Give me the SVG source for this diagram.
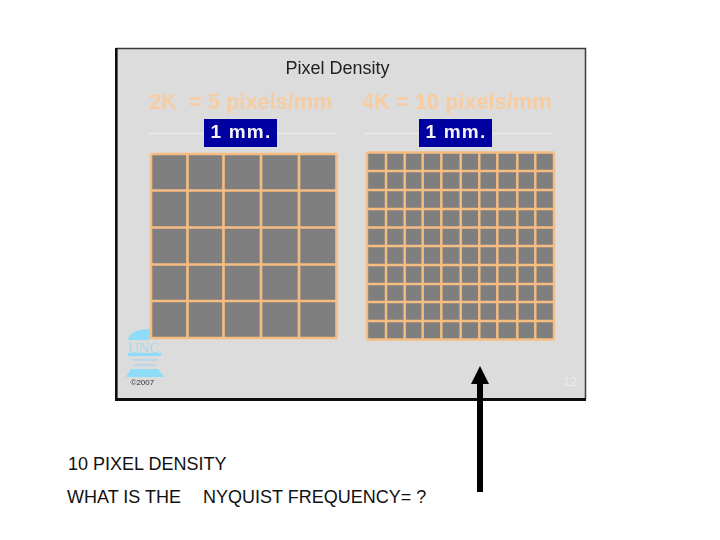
<svg xmlns="http://www.w3.org/2000/svg" width="720" height="540" viewBox="0 0 720 540">
<defs>
<style>
text{font-family:"Liberation Sans",Arial,sans-serif}
.cell{fill:#7f7f7f}
.g5{stroke:#f6bd82;stroke-width:2.6;fill:none}
.g10{stroke:#f6bd82;stroke-width:2.4;fill:none}
.head{fill:#f7cca0;font-size:21.800px;font-weight:bold}
.mm{fill:#f2f2f8;font-size:19px;font-weight:bold;letter-spacing:1.200px;text-anchor:middle}
.badge{fill:#0000a0}
.rule{stroke:#e8e8e8;stroke-width:1.500}
.logo{fill:#8edcf8}
.cap{fill:#111;font-size:18px}
</style>
<filter id="soft" x="-5%" y="-5%" width="110%" height="110%"><feGaussianBlur stdDeviation="0.45"/></filter>
</defs>
<rect width="720" height="540" fill="#fff"/>
<g id="slide" filter="url(#soft)">
<rect x="116" y="49" width="469" height="350" fill="#dcdcdc"/>
<path d="M116.500 399V48.500H585.500V399" fill="none" stroke="#3a3a3a" stroke-width="1.500"/>
<rect x="115" y="48" width="2.500" height="352" fill="#111"/>
<rect x="115" y="398" width="471" height="3" fill="#111"/>
<text x="337.500" y="73.500" font-size="18" fill="#222" text-anchor="middle">Pixel Density</text>
<text class="head" x="149" y="109" xml:space="preserve">2K  = 5 pixels/mm</text>
<text class="head" x="362" y="109">4K = 10 pixels/mm</text>
<path class="rule" d="M148 133.500H204M277 133.500H337M363 133.500H419M492 133.500H553"/>
<rect class="badge" x="204" y="119" width="73" height="28"/>
<rect class="badge" x="419" y="119" width="73" height="28"/>
<text class="mm" x="241" y="138">1 mm.</text>
<text class="mm" x="456" y="138">1 mm.</text>
</g>
<g id="grid-5" filter="url(#soft)">
<rect class="cell" x="151" y="154" width="186" height="185"/>
<path class="g5" d="M151 154V339M187.500 154V339M223.500 154V339M261 154V339M299 154V339M336.500 154V339M151 154H337M151 190.500H337M151 227.500H337M151 264.500H337M151 301H337M151 338H337"/>
</g>
<g id="grid-10" filter="url(#soft)">
<rect class="cell" x="367" y="153" width="187" height="187"/>
<path class="g10" d="M367 152.500V340M386 152.500V340M404.700 152.500V340M422.700 152.500V340M441.300 152.500V340M460.700 152.500V340M479.300 152.500V340M497.300 152.500V340M517.300 152.500V340M535.300 152.500V340M554 152.500V340M367 152.500H554M367 171H554M367 190H554M367 209H554M367 227.500H554M367 246H554M367 265H554M367 284H554M367 302H554M367 321H554M367 339.500H554"/>
</g>
<g id="logo" filter="url(#soft)">
<path class="logo" d="M128 340C129 333 137 329 150 329V340Z"/>
<rect class="logo" x="128" y="353" width="33" height="3"/>
<path class="logo" d="M131 369H158L164 377H126Z"/>
<text x="144" y="353" font-size="15" text-anchor="middle" style="font-family:'Liberation Serif',serif" fill="#a6d5ec">UNC</text>
<path d="M132 360H158M134 365H156" stroke="#c0d6e2" stroke-width="2.500"/>
<text x="130.500" y="385" font-size="8" fill="#333">©2007</text>
<text x="570" y="386" font-size="13" fill="#eaeaea" text-anchor="middle">12</text>
</g>
<g id="connectors">
<path d="M480 492V382" stroke="#000" stroke-width="6" fill="none"/>
<path d="M480 366L489 384H471Z" fill="#000"/>
</g>
<g id="caption">
<text class="cap" x="68" y="470">10 PIXEL DENSITY</text>
<text class="cap" y="503"><tspan x="67">WHAT IS THE</tspan><tspan x="203">NYQUIST FREQUENCY= ?</tspan></text>
</g>
</svg>
